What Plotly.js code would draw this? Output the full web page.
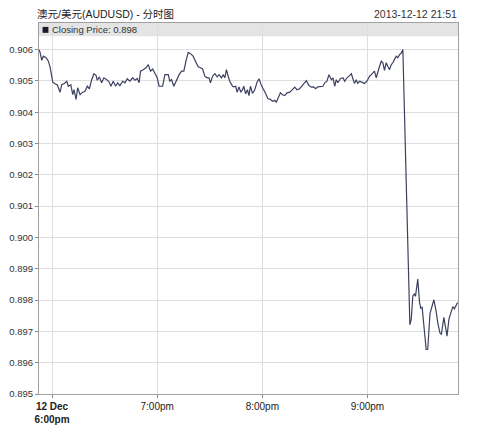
<!DOCTYPE html>
<html>
<head>
<meta charset="utf-8">
<script src="https://cdn.plot.ly/plotly-3.0.1.min.js"></script>
<style>html,body{margin:0;padding:0;background:#fff;}#chart{width:479px;height:425px;}</style>
</head>
<body>
<div id="chart"></div>
<script>
// Minutes after 18:00 on 2013-12-12
const minutesAfter6pm = [
 -7.4,-6.8,-5.9,-5.0,-3.4,-2.1,-1.1,0.4,1.7,3.0,4.6,5.5,7.0,8.4,9.3,10.7,11.8,12.5,13.7,14.6,
 16.0,17.5,18.8,20.1,21.3,22.6,23.9,25.1,25.8,27.0,28.3,29.6,31.2,32.5,33.6,34.9,36.3,37.4,38.7,40.3,
 41.6,42.9,44.4,46.0,47.3,48.6,49.7,50.5,52.0,53.6,54.9,56.2,57.4,58.7,60.0,61.1,63.1,64.4,66.3,67.2,
 68.2,69.5,71.1,72.5,73.9,75.2,76.4,77.7,79.0,80.5,82.1,83.4,84.7,85.9,87.2,88.5,89.6,90.4,91.6,92.9,
 94.2,95.3,96.7,97.6,98.6,99.5,100.5,101.4,103.0,103.7,104.8,105.6,106.7,107.7,108.7,109.4,110.5,111.5,112.4,113.2,
 114.4,115.7,117.0,118.1,119.5,120.8,121.9,123.2,124.6,125.8,127.1,128.0,128.9,130.3,131.5,132.8,134.1,135.6,137.2,138.5,
 139.8,141.3,142.8,144.2,145.1,146.6,148.0,149.3,150.4,151.7,152.7,154.6,155.6,156.9,158.0,159.4,160.3,161.3,162.2,163.1,
 164.5,166.0,167.0,168.3,169.8,170.8,171.7,172.6,173.6,174.5,175.5,177.0,178.3,179.7,181.2,182.2,183.1,184.0,185.0,185.9,
 186.9,187.9,188.8,189.7,190.7,191.6,192.6,193.6,194.5,195.4,196.4,197.3,198.3,199.3,200.2,
 204.2,205.0,205.9,206.8,207.4,208.7,209.7,210.4,211.2,212.5,213.5,214.4,215.7,216.9,217.9,219.2,220.1,221.4,222.2,223.6,
 224.4,225.4,226.5,227.5,228.7,229.6,231.4
];
// Closing price (AUD/USD)
const closingPrice = [
 0.90600,0.90590,0.90566,0.90579,0.90574,0.90563,0.90543,0.90496,0.90491,0.90487,0.90464,0.90488,0.90492,0.90499,0.90483,0.90488,0.90456,0.90472,0.90441,0.90478,
 0.90456,0.90464,0.90467,0.90483,0.90475,0.90504,0.90523,0.90518,0.90502,0.90513,0.90494,0.90510,0.90504,0.90497,0.90483,0.90499,0.90483,0.90494,0.90485,0.90499,
 0.90494,0.90507,0.90499,0.90510,0.90502,0.90508,0.90494,0.90531,0.90536,0.90542,0.90552,0.90531,0.90538,0.90526,0.90510,0.90483,0.90483,0.90520,0.90520,0.90499,
 0.90504,0.90483,0.90504,0.90520,0.90531,0.90531,0.90563,0.90591,0.90587,0.90579,0.90560,0.90545,0.90542,0.90538,0.90515,0.90510,0.90510,0.90494,0.90515,0.90523,
 0.90513,0.90520,0.90510,0.90520,0.90510,0.90536,0.90515,0.90499,0.90483,0.90481,0.90483,0.90464,0.90481,0.90464,0.90472,0.90483,0.90459,0.90472,0.90453,0.90483,
 0.90460,0.90472,0.90496,0.90507,0.90485,0.90472,0.90460,0.90443,0.90441,0.90435,0.90438,0.90432,0.90446,0.90462,0.90456,0.90453,0.90462,0.90464,0.90472,0.90480,
 0.90472,0.90475,0.90485,0.90496,0.90501,0.90485,0.90480,0.90481,0.90475,0.90481,0.90481,0.90483,0.90494,0.90499,0.90520,0.90504,0.90510,0.90483,0.90504,0.90494,
 0.90507,0.90510,0.90499,0.90510,0.90517,0.90523,0.90507,0.90492,0.90504,0.90492,0.90499,0.90494,0.90492,0.90499,0.90515,0.90520,0.90526,0.90531,0.90510,0.90531,
 0.90547,0.90563,0.90558,0.90534,0.90558,0.90547,0.90536,0.90552,0.90558,0.90568,0.90579,0.90574,0.90584,0.90589,0.90600,
 0.89721,0.89739,0.89814,0.89819,0.89812,0.89867,0.89793,0.89774,0.89777,0.89691,0.89642,0.89643,0.89758,0.89781,0.89801,0.89764,0.89728,0.89694,0.89691,0.89745,
 0.89717,0.89685,0.89739,0.89760,0.89779,0.89772,0.89792
];
const tickTimes = ['2013-12-12 18:00', '2013-12-12 19:00', '2013-12-12 20:00', '2013-12-12 21:00'];
const tickLabels = ['<b>12 Dec</b><br><b>6:00pm</b>', '7:00pm', '8:00pm', '9:00pm'];
const chartTitle = '澳元/美元(AUDUSD) - 分时图';
const stampText = '2013-12-12 21:51';
const legendText = 'Closing Price: 0.898';

const base = Date.UTC(2013, 11, 12, 18, 0, 0);
const times = minutesAfter6pm.map(m => new Date(base + m * 60000).toISOString().replace('T', ' ').slice(0, 19));

const FONT = '"Liberation Sans", Arial, "Noto Sans CJK SC", sans-serif';

const trace = {
  x: times, y: closingPrice, type: 'scatter', mode: 'lines',
  line: {color: '#3d4160', width: 1.2}, hoverinfo: 'x+y', showlegend: false
};

const layout = {
  width: 479, height: 425,
  margin: {l: 39, r: 21, t: 23, b: 31, pad: 0},
  paper_bgcolor: '#ffffff', plot_bgcolor: '#ffffff',
  font: {family: FONT, size: 10, color: '#333'},
  xaxis: {
    type: 'date', range: ['2013-12-12 17:52:33', '2013-12-12 21:51:40'],
    tickmode: 'array', tickvals: tickTimes, ticktext: tickLabels,
    showgrid: true, gridcolor: '#dedede', gridwidth: 1,
    showline: true, linecolor: '#a0a0a0', linewidth: 1, mirror: true,
    ticks: 'outside', ticklen: 3, tickcolor: '#888',
    tickfont: {family: FONT, size: 10, color: '#222'}, zeroline: false, fixedrange: true
  },
  yaxis: {
    range: [0.895, 0.90685], tick0: 0.895, dtick: 0.001, tickformat: '.3f',
    showgrid: true, gridcolor: '#dedede', gridwidth: 1,
    showline: true, linecolor: '#a0a0a0', linewidth: 1, mirror: true,
    ticks: 'outside', ticklen: 3, tickcolor: '#888',
    tickfont: {family: FONT, size: 9.5, color: '#333'}, zeroline: false, fixedrange: true
  },
  shapes: [
    {type: 'rect', xref: 'paper', yref: 'paper', x0: 0, x1: 1, y0: 0.964, y1: 1,
     fillcolor: '#e4e4e4', line: {width: 0}, layer: 'below'},
    {type: 'rect', xref: 'paper', yref: 'paper', x0: 0.0085, x1: 0.0225, y0: 0.9735, y1: 0.9895,
     fillcolor: '#1a1a2a', line: {width: 0}}
  ],
  annotations: [
    {text: chartTitle, xref: 'paper', yref: 'paper', x: -0.01, y: 1.024, xanchor: 'left', yanchor: 'middle',
     showarrow: false, font: {family: FONT, size: 10.5, color: '#222'}},
    {text: legendText, xref: 'paper', yref: 'paper', x: 0.0265, y: 0.982, xanchor: 'left', yanchor: 'middle',
     showarrow: false, font: {family: FONT, size: 9.5, color: '#333'}},
    {text: stampText, xref: 'paper', yref: 'paper', x: 1.003, y: 1.024, xanchor: 'right', yanchor: 'middle',
     showarrow: false, font: {family: FONT, size: 10.5, color: '#333'}}
  ]
};

Plotly.newPlot('chart', [trace], layout, {displayModeBar: false, staticPlot: true});
</script>
</body>
</html>
